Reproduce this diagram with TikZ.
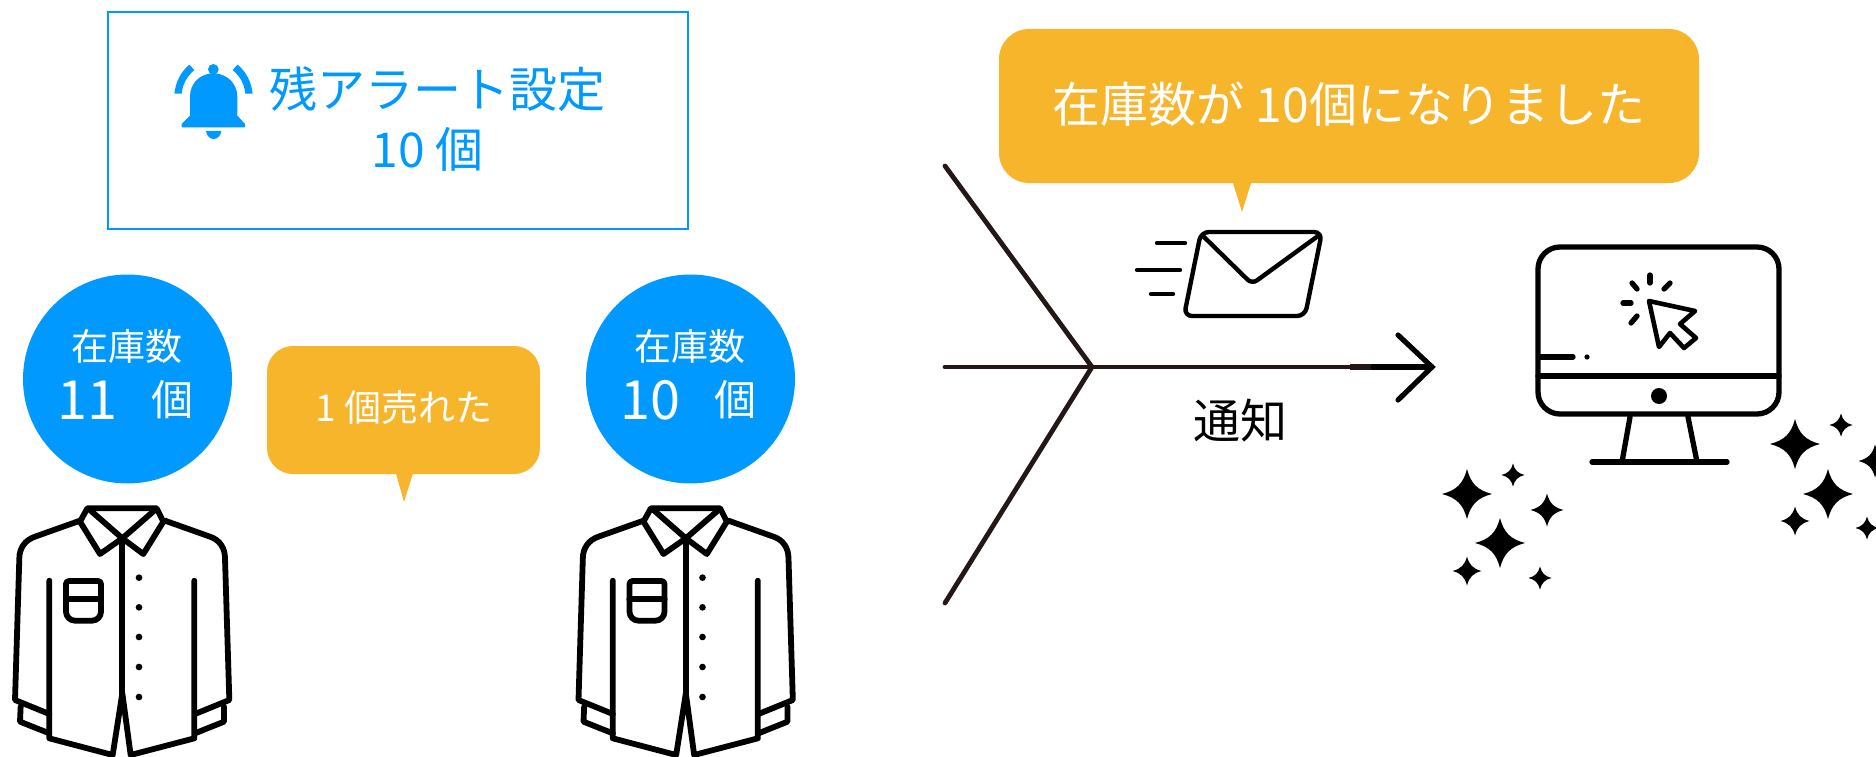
\documentclass[tikz,border=0pt]{standalone}
\usepackage{fontspec}
\newfontfamily\jpfont{Noto Sans CJK JP}
\definecolor{alertblue}{HTML}{0099FF}
\definecolor{baloon}{HTML}{F7B52C}
\definecolor{forkline}{HTML}{231815}
\tikzset{
  icon/.style={line width=5.3pt, line cap=round, line join=round},
  fork/.style={line width=4.8pt, color=forkline, line cap=round},
  stock/.style={circle, fill=alertblue, minimum size=209pt, inner sep=0pt},
  tag/.style={fill=baloon, rounded corners=26pt, inner sep=0pt},
  txt/.style={inner sep=0pt, text=white},
}
\newcommand{\jpsize}[1]{\jpfont\fontsize{#1}{#1}\selectfont}
\begin{document}
\begin{tikzpicture}[x=1pt, y=-1pt]
        \useasboundingbox (0,0) rectangle (1876,757);
        % Alert box
        \node[draw=alertblue, line width=2.8pt, minimum width=580pt, minimum height=217pt, inner sep=0pt] (alert) at (398,120.5) {};
        \node[txt, text=alertblue, font=\jpsize{48}] (alertname) at (437,89) {残アラート設定};
        \node[txt, text=alertblue, font=\jpsize{48}] (alertnum) at (428,149) {10 個};

        % Bell
        \begin{scope}[shift={(160,50)}, scale=1/3, alertblue]
            \fill (65,232) -- (65,222) -- (90,197) -- (90,140) .. controls (90,100) and (120,70) .. (160,70)
                .. controls (200,70) and (232,100) .. (232,140) -- (232,197) -- (255,222) -- (255,232) -- cycle;
            \fill (160,58) circle (16);
            \fill (138,243) -- (184,243) .. controls (182,258) and (172,267) .. (161,267) .. controls (150,267) and (140,258) .. (138,243) -- cycle;
            \fill (43,131) .. controls (47,95) and (63,65) .. (88,44) -- (103,60) .. controls (80,80) and (68,102) .. (65,131) -- cycle;
            \fill (278,131) .. controls (274,95) and (258,65) .. (233,44) -- (218,60) .. controls (241,80) and (253,102) .. (256,131) -- cycle;
        \end{scope}

        % Stock circles
        \node[stock] (stockA) at (127.5,379) {};
        \node[stock] (stockB) at (690.5,379) {};
        \node[txt, font=\jpsize{37}] (stockAname) at (127,346) {在庫数};
        \node[txt, font=\jpsize{37}] (stockBname) at (690,346) {在庫数};
        \node[txt, font=\jpsize{54}] (stockAnum) at (87,400) {11};
        \node[txt, font=\jpsize{54}] (stockBnum) at (650,400) {10};
        \node[txt, font=\jpsize{42}] (stockAunit) at (172,400) {個};
        \node[txt, font=\jpsize{42}] (stockBunit) at (735,400) {個};

        % Balloons
        \fill[baloon] (395,470) -- (404,502) -- (414,470) -- cycle;
        \node[tag, minimum width=273pt, minimum height=128pt] (sold) at (403.5,410) {};
        \node[txt, font=\jpsize{37}] (soldtext) at (404,407) {1 個売れた};
        \fill[baloon] (1232,180) -- (1242,212) -- (1252,180) -- cycle;
        \node[tag, rounded corners=30pt, minimum width=700pt, minimum height=154pt] (notice) at (1349,106) {};
        \node[txt, font=\jpsize{48}] (noticetext) at (1349,104) {在庫数が 10個になりました};

        % Shirts
        \foreach \shx in {0,563.5} {
            \begin{scope}[shift={(\shx,490)}, scale=1/3, icon, line width=5.8pt]
                \draw (240,92) -- (105,140) .. controls (75,150) and (58,175) .. (58,205) -- (45,630) -- (148,672);
                \draw (495,92) -- (630,140) .. controls (660,150) and (675,175) .. (675,205) -- (688,630) -- (585,672);
                \draw (62,650) -- (60,695) -- (148,730);
                \draw (672,650) -- (672,695) -- (585,730);
                \draw (148,272) -- (148,745) -- (338,795) -- (367,610) -- (392,795) -- (583,745) -- (583,272);
                \draw (367,150) -- (367,610);
                % Collar
                \draw (262,55) -- (470,55) -- (490,95) -- (430,192) -- (367,145) -- (300,192) -- (240,95) -- cycle;
                \draw (270,60) -- (367,145) -- (465,60);
                % Pocket
                \draw[rounded corners=3pt] (198,330) -- (198,273) -- (303,273) -- (303,330);
                \draw[rounded corners=9pt] (198,328) -- (198,392) -- (303,392) -- (303,328);
                \draw (198,328) -- (303,328);
                % Buttons
                \foreach \by in {263,352,441,531,621} {
                    \fill (417,\by) circle (10);
                }
            \end{scope}
        }

        % Fork arrow
        \coordinate (forktop) at (945,166);
        \coordinate (forkmid) at (945,367);
        \coordinate (forkbot) at (945,603);
        \coordinate (forkhub) at (1092,367);
        \coordinate (arrowtip) at (1432,367);
        \coordinate (arrowup) at (1398,335);
        \coordinate (arrowdn) at (1398,400);
        \coordinate (arrowbase) at (1350,367);
        \coordinate (arrowblack) at (1373,367);
        \draw[fork] (forktop) -- (forkhub);
        \draw[fork] (forkbot) -- (forkhub);
        \draw[fork] (forkmid) -- (arrowtip);
        \draw[fork, line width=5.4pt, line cap=butt] (arrowbase) -- (arrowblack);
        \draw[fork, black, line width=5.2pt] (arrowblack) -- (arrowtip);
        \draw[fork, black, line width=5.2pt, line join=miter] (arrowup) -- (arrowtip) -- (arrowdn);
        \node[txt, text=black, font=\jpsize{47}] (notify) at (1240,421) {通知};

        % Envelope
        \begin{scope}[icon, line width=4.4pt]
            \draw[rounded corners=8pt] (1201,232) -- (1322,232) -- (1305,316) -- (1184,316) -- cycle;
            \draw[rounded corners=6pt] (1203,236) -- (1252,284) -- (1318,236);
            \draw (1157,243) -- (1185,243);
            \draw (1137,270) -- (1180,270);
            \draw (1151,294) -- (1173,294);
        \end{scope}

        % Monitor
        \begin{scope}[icon]
            \draw[rounded corners=22pt] (1538,247) rectangle (1779,414);
            \draw (1538,376) -- (1779,376);
            \fill (1659,396) circle (8);
            \draw (1540,357) -- (1573,357);
            \fill (1587,357) circle (2.6);
            \draw (1630,417) -- (1622,462);
            \draw (1688,417) -- (1697,462);
            \draw (1592,462) -- (1727,462);
            \draw[line width=4.6pt] (1649,301) -- (1695,311) -- (1680,324) -- (1696,338) -- (1684,348) -- (1670,333) -- (1659,347) -- cycle;
            \draw (1650,275) -- (1650,283);
            \draw (1632,283) -- (1637,289);
            \draw (1670,283) -- (1664,289);
            \draw (1623,303) -- (1631,303);
            \draw (1637,316) -- (1631,323);
        \end{scope}

        % Sparkles
        \foreach \sx/\sy/\sr in {1467/494/25, 1513/475/11.5, 1547/510/16.5, 1500/543/25, 1467/571/14.5, 1540/578/11.5,
                                 1795/444/25, 1841/425/11.5, 1875/461/16.5, 1828/494/25, 1795/521/14.5, 1867/528/11.5} {
            \fill[shift={(\sx,\sy)}, scale=\sr] (0,-1) .. controls (.15,-.42) and (.42,-.15) .. (1,0)
                .. controls (.42,.15) and (.15,.42) .. (0,1) .. controls (-.15,.42) and (-.42,.15) .. (-1,0)
                .. controls (-.42,-.15) and (-.15,-.42) .. (0,-1) -- cycle;
        }
    \end{tikzpicture}
\end{document}
